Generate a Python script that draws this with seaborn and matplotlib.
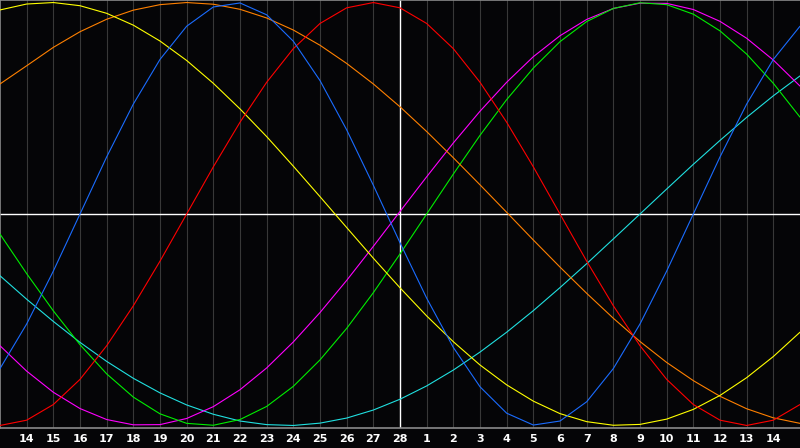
import matplotlib
matplotlib.use("Agg")
import matplotlib.pyplot as plt
import seaborn as sns
import pandas as pd

# day index 0..30 ; labels shown at index 1..29
day_index = list(range(31))
tick_labels = ["14", "15", "16", "17", "18", "19", "20", "21", "22", "23", "24", "25", "26", "27", "28",
               "1", "2", "3", "4", "5", "6", "7", "8", "9", "10", "11", "12", "13", "14"]

red = [-1.0, -0.975, -0.901, -0.782, -0.623, -0.434, -0.223, 0.0, 0.223, 0.434, 0.623, 0.782, 0.901, 0.975,
       1.0, 0.975, 0.901, 0.782, 0.623, 0.434, 0.223, 0.0, -0.223, -0.434, -0.623, -0.782, -0.901, -0.975,
       -1.0, -0.975, -0.901]
blue = [-0.731, -0.520, -0.270, 0.0, 0.270, 0.520, 0.731, 0.888, 0.979, 0.998, 0.942, 0.817, 0.631, 0.398,
        0.136, -0.136, -0.398, -0.631, -0.817, -0.942, -0.998, -0.979, -0.888, -0.731, -0.520, -0.270, 0.0,
        0.270, 0.520, 0.731, 0.888]
yellow = [0.965, 0.993, 1.0, 0.985, 0.949, 0.893, 0.818, 0.726, 0.618, 0.497, 0.366, 0.226, 0.082, -0.064,
          -0.209, -0.349, -0.482, -0.604, -0.714, -0.808, -0.885, -0.944, -0.982, -0.999, -0.995, -0.970,
          -0.924, -0.858, -0.774, -0.674, -0.559]
orange = [0.615, 0.701, 0.788, 0.862, 0.921, 0.964, 0.990, 1.0, 0.992, 0.968, 0.927, 0.870, 0.798, 0.712,
          0.615, 0.507, 0.390, 0.266, 0.138, 0.008, -0.123, -0.251, -0.375, -0.493, -0.603, -0.702, -0.788,
          -0.862, -0.921, -0.964, -0.990]
green = [-0.095, -0.282, -0.458, -0.618, -0.756, -0.866, -0.945, -0.990, -0.999, -0.972, -0.910, -0.815,
         -0.690, -0.541, -0.372, -0.189, 0.0, 0.189, 0.372, 0.541, 0.690, 0.815, 0.910, 0.972, 0.999, 0.990,
         0.945, 0.866, 0.756, 0.618, 0.458]
magenta = [-0.623, -0.743, -0.843, -0.920, -0.972, -0.997, -0.996, -0.967, -0.911, -0.831, -0.728, -0.605,
           -0.466, -0.314, -0.153, 0.012, 0.176, 0.336, 0.486, 0.623, 0.744, 0.843, 0.920, 0.972, 0.997, 0.996,
           0.967, 0.911, 0.831, 0.728, 0.605]
cyan = [-0.292, -0.403, -0.508, -0.607, -0.697, -0.777, -0.846, -0.903, -0.947, -0.979, -0.996, -1.0, -0.989,
        -0.965, -0.927, -0.876, -0.813, -0.738, -0.653, -0.559, -0.457, -0.348, -0.235, -0.118, 0.0, 0.118,
        0.235, 0.348, 0.457, 0.559, 0.653]

series = {"cyan": cyan, "magenta": magenta, "green": green, "orange": orange,
          "yellow": yellow, "red": red, "blue": blue}
colors = {"cyan": "#20e0e0", "magenta": "#ff00ff", "green": "#00ee00", "orange": "#ff8000",
          "yellow": "#ffff00", "red": "#ff0000", "blue": "#1a6cff"}

rows = []
for name, vals in series.items():
    for d, v in zip(day_index, vals):
        rows.append({"day": d, "value": v, "series": name})
df = pd.DataFrame(rows)

sns.set_style("dark")
bg = "#050507"
fig = plt.figure(figsize=(8, 4.48), dpi=100, facecolor=bg)
ax = fig.add_axes([0, 20 / 448, 1, 428 / 448])
ax.set_facecolor(bg)

for i in range(1, 30):
    if i != 15:
        ax.axvline(i, color="#383838", lw=0.8, zorder=1)
ax.axvline(15, color="white", lw=1.0, zorder=2)
ax.axhline(0, color="white", lw=1.0, zorder=2)

sns.lineplot(data=df, x="day", y="value", hue="series", palette=colors, legend=False,
             ax=ax, lw=0.8, zorder=3, estimator=None, sort=True)

ax.set_xlim(0, 30)
ax.set_ylim(-1.012, 1.012)
ax.set_xticks(range(1, 30))
ax.set_xticklabels(tick_labels, color="white", fontsize=8, fontweight="bold",
                   family=["DejaVu Sans"])
ax.tick_params(axis="x", length=0, pad=4)
ax.set_yticks([])
ax.set_xlabel("")
ax.set_ylabel("")
ax.grid(False)
for s in ["left", "top", "bottom"]:
    ax.spines[s].set_visible(True)
    ax.spines[s].set_color("#8a8a8a")
    ax.spines[s].set_linewidth(1.2)
ax.spines["right"].set_visible(False)

fig.savefig("out.png", dpi=100, facecolor=bg)
